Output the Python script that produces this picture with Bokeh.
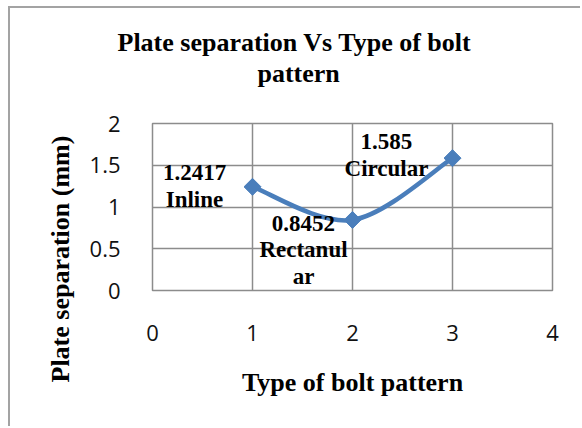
import math
from bokeh.plotting import figure
from bokeh.models import Range1d, Title, ColumnDataSource
from bokeh.core.properties import value
from bokeh.embed import file_html
from bokeh.resources import INLINE

# ---- data ----
bolt_pattern_index = [1, 2, 3]
plate_separation = [1.2417, 0.8452, 1.585]
pattern_names = ["Inline", "Rectanular", "Circular"]
x_ticks = [0, 1, 2, 3, 4]
x_tick_labels = ["0", "1", "2", "3", "4"]
y_ticks = [0, 0.5, 1, 1.5, 2]
y_tick_labels = ["0", "0.5", "1", "1.5", "2"]

title_lines = ["Plate separation Vs Type of bolt", "pattern"]
x_title = "Type of bolt pattern"
y_title = "Plate separation (mm)"

# ---- style ----
BLUE = "#4A7EBB"
GRID = "#8c8c8c"
SERIF = "Liberation Serif"
SANS = "Open Sans"

p = figure(width=572, height=420, x_range=Range1d(0, 4), y_range=Range1d(0, 2),
           output_backend="svg", toolbar_location=None, title_location=None,
           min_border_left=142, min_border_right=30,
           min_border_top=115, min_border_bottom=138)
p.styles = {"margin-left": "8px", "margin-top": "6px",
            "border-left": "2px solid #a3a3a3", "border-top": "2px solid #a3a3a3"}
p.background_fill_color = "white"
p.border_fill_color = "white"
p.outline_line_color = GRID
p.outline_line_width = 1.5

p.xgrid.ticker = x_ticks
p.ygrid.ticker = y_ticks
p.grid.grid_line_color = GRID
p.grid.grid_line_width = 1.5

for ax in (p.xaxis, p.yaxis):
    ax.axis_line_color = None
    ax.major_tick_line_color = None
    ax.minor_tick_line_color = None
    ax.major_label_text_font = SANS
    ax.major_label_text_font_size = "22px"
    ax.major_label_text_color = "#111111"

p.xaxis.ticker = x_ticks
p.xaxis.major_label_overrides = {t: l for t, l in zip(x_ticks, x_tick_labels)}
p.xaxis.major_label_standoff = 28
p.yaxis.ticker = y_ticks
p.yaxis.major_label_overrides = {t: l for t, l in zip(y_ticks, y_tick_labels)}
p.yaxis.major_label_standoff = 26

p.xaxis.axis_label = x_title
p.xaxis.axis_label_text_font = SERIF
p.xaxis.axis_label_text_font_style = "bold"
p.xaxis.axis_label_text_font_size = "26px"
p.xaxis.axis_label_text_color = "black"
p.xaxis.axis_label_standoff = 24

# ---- titles (stacked outward from the frame: spacer, line 2, line 1) ----
title_font = dict(text_font=SERIF, text_font_style="bold", text_font_size="26px",
                  text_color="black")
p.add_layout(Title(text=" ", text_font_size="1px", standoff=33), "above")
p.add_layout(Title(text=title_lines[1], align="left", offset=105, standoff=0, **title_font), "above")
p.add_layout(Title(text=title_lines[0], align="left", offset=-35, standoff=0, **title_font), "above")
p.add_layout(Title(text=y_title, align="left", offset=-92, standoff=24, **title_font), "left")

# ---- smoothed line (Bezier segments computed from the data points) ----
n = len(bolt_pattern_index)
xs, ys = bolt_pattern_index, plate_separation
seg = dict(x0=[], y0=[], x1=[], y1=[], cx0=[], cy0=[], cx1=[], cy1=[])
for i in range(n - 1):
    xm, ym = xs[max(i - 1, 0)], ys[max(i - 1, 0)]
    xa, ya = xs[i], ys[i]
    xb, yb = xs[i + 1], ys[i + 1]
    xp, yp = xs[min(i + 2, n - 1)], ys[min(i + 2, n - 1)]
    seg["x0"].append(xa); seg["y0"].append(ya)
    seg["x1"].append(xb); seg["y1"].append(yb)
    seg["cx0"].append(xa + (xb - xm) / 6); seg["cy0"].append(ya + (yb - ym) / 6)
    seg["cx1"].append(xb - (xp - xa) / 6); seg["cy1"].append(yb - (yp - ya) / 6)
p.bezier(x0="x0", y0="y0", x1="x1", y1="y1", cx0="cx0", cy0="cy0", cx1="cx1", cy1="cy1",
         source=ColumnDataSource(seg), line_color=BLUE, line_width=4.5)

p.scatter(bolt_pattern_index, plate_separation, marker="square", size=12, angle=math.pi / 4,
          fill_color=BLUE, line_color=BLUE, line_width=1)

# ---- data labels ----
def wrap(name, width=8):
    return name if len(name) <= width else name[:width] + "\n" + name[width:]

label_text = [f"{v}\n{wrap(nm)}" for v, nm in zip(plate_separation, pattern_names)]
label_dx = [-58, -49, -66]
label_dy = [-1, 30, -3]
p.text(x=bolt_pattern_index, y=plate_separation, text=label_text,
       x_offset=label_dx, y_offset=label_dy,
       text_font=value(SERIF), text_font_style="bold", text_font_size="23px",
       text_align="center", text_baseline="middle", text_line_height=1.07,
       text_color="black")

open("out.html", "w").write(file_html(p, INLINE))
